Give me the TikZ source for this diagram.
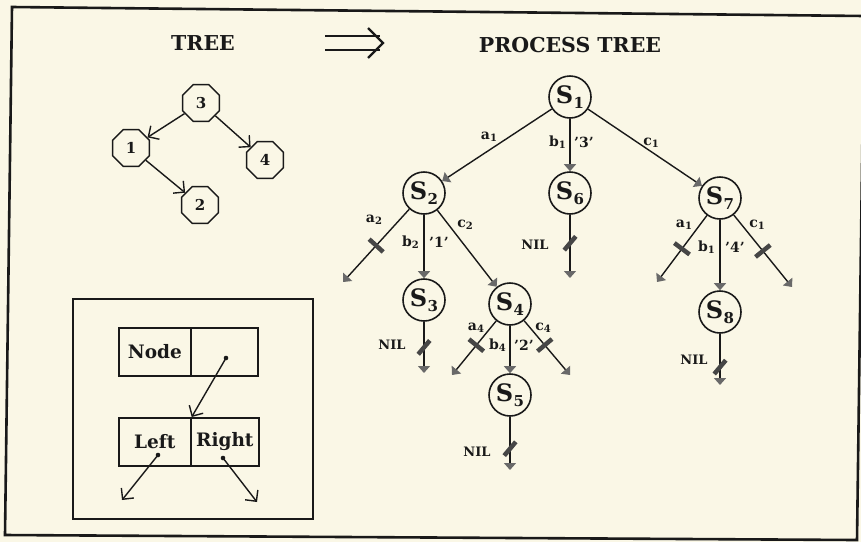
\documentclass[tikz,border=0pt]{standalone}
\usepackage{fontspec}
\setmainfont{DejaVu Serif}
\usetikzlibrary{arrows.meta,shapes.geometric}

\definecolor{paper}{RGB}{250,247,230}
\definecolor{ink}{RGB}{25,25,25}
\definecolor{tipgray}{RGB}{105,105,105}
\definecolor{cutgray}{RGB}{70,70,70}

% state label S with a lowered index
\newcommand{\St}[1]{S\kern0.5pt\raisebox{-5pt}{\fontsize{15}{15}\selectfont #1}}
% edge label with a lowered index
\newcommand{\Lb}[2]{#1\raisebox{-2.5pt}{\fontsize{10}{10}\selectfont #2}}

\tikzset{
  tnode/.style={draw=ink, line width=1.5pt, regular polygon, regular polygon sides=8,
    minimum size=40pt, inner sep=0pt, text=ink, font=\fontsize{15}{15}\selectfont\bfseries},
  pnode/.style={circle, draw=ink, line width=1.6pt, minimum size=42pt, inner sep=0pt,
    text=ink, font=\fontsize{24}{24}\selectfont\bfseries},
  tedge/.style={draw=ink, line width=1.4pt, -{Straight Barb[length=8pt,angle'=90]}},
  pedge/.style={draw=ink, line width=1.4pt, -{Triangle[length=7pt,width=12pt,color=tipgray]}},
  lbl/.style={inner sep=0pt, text=ink, font=\fontsize{14}{14}\selectfont\bfseries},
  nil/.style={inner sep=0pt, text=ink, font=\fontsize{13}{13}\selectfont\bfseries},
  cut/.style={fill=cutgray, draw=none, inner sep=0pt, minimum width=4.5pt, minimum height=19pt},
  slash/.style={cut, minimum height=18pt, rotate=-40},
  title/.style={inner sep=0pt, text=ink, font=\fontsize{20.5}{20.5}\selectfont\bfseries},
  cell/.style={draw=ink, line width=1.7pt, minimum height=48pt, inner sep=0pt, anchor=north west,
    text=ink, font=\fontsize{18.5}{18.5}\selectfont\bfseries},
}

\begin{document}
\begin{tikzpicture}[x=1pt,y=-1pt]
\fill[paper] (0,0) rectangle (861,542);
\useasboundingbox (0,0) rectangle (861,542);

% outer frame
\draw[ink, line width=2.6pt, line join=miter] (12,7) -- (864,16) -- (857,540) -- (5,535) -- cycle;

% headings and the implication arrow
\node[title] (htree) at (203,43) {TREE};
\node[title] (hproc) at (570,45) {PROCESS TREE};
\coordinate (ia) at (325,36); \coordinate (ib) at (380,36);
\coordinate (ic) at (325,50); \coordinate (id) at (380,50);
\draw[ink, line width=2.2pt] (ia) -- (ib) (ic) -- (id);
\draw[ink, line width=2.2pt] (368,28) -- (383,43) -- (368,58);

% binary tree
\node[tnode] (n3) at (201,103) {3};
\node[tnode] (n1) at (131,148) {1};
\node[tnode] (n4) at (265,160) {4};
\node[tnode] (n2) at (200,205) {2};
\draw[tedge] (n3) -- (n1);
\draw[tedge] (n3) -- (n4);
\draw[tedge] (n1) -- (n2);

% process tree states
\node[pnode] (S1) at (570,97) {\St{1}};
\node[pnode] (S2) at (424,193) {\St{2}};
\node[pnode] (S6) at (570,193) {\St{6}};
\node[pnode] (S7) at (720,198) {\St{7}};
\node[pnode] (S3) at (424,300) {\St{3}};
\node[pnode] (S4) at (510,304) {\St{4}};
\node[pnode] (S5) at (510,395) {\St{5}};
\node[pnode] (S8) at (720,312) {\St{8}};

% free ends of blocked transitions
\coordinate (t2a) at (343,282);
\coordinate (t3n) at (424,373);
\coordinate (t4a) at (452,375);
\coordinate (t4c) at (570,375);
\coordinate (t5n) at (510,470);
\coordinate (t6n) at (570,278);
\coordinate (t7a) at (657,282);
\coordinate (t7c) at (792,287);
\coordinate (t8n) at (720,385);

% transitions
\draw[pedge] (S1) -- (S2);
\draw[pedge] (S1) -- (S6);
\draw[pedge] (S1) -- (S7);
\draw[pedge] (S2) -- node[cut, sloped, pos=0.5] {} (t2a);
\draw[pedge] (S2) -- (S3);
\draw[pedge] (S2) -- (S4);
\draw[pedge] (S3) -- node[slash, pos=0.5] {} (t3n);
\draw[pedge] (S4) -- node[cut, sloped, pos=0.45] {} (t4a);
\draw[pedge] (S4) -- (S5);
\draw[pedge] (S4) -- node[cut, sloped, pos=0.45] {} (t4c);
\draw[pedge] (S5) -- node[slash, pos=0.6] {} (t5n);
\draw[pedge] (S6) -- node[slash, pos=0.45] {} (t6n);
\draw[pedge] (S7) -- node[cut, sloped, pos=0.5] {} (t7a);
\draw[pedge] (S7) -- (S8);
\draw[pedge] (S7) -- node[cut, sloped, pos=0.5] {} (t7c);
\draw[pedge] (S8) -- node[slash, pos=0.65] {} (t8n);

% transition labels
\node[lbl] (la1) at (489,137) {\Lb{a}{1}};
\node[lbl, anchor=east] (lb1) at (566,142) {\Lb{b}{1}};
\node[lbl, anchor=west] (lp3) at (574,142) {'3'};
\node[lbl] (lc1) at (651,143) {\Lb{c}{1}};
\node[lbl] (la2) at (374,220) {\Lb{a}{2}};
\node[lbl, anchor=east] (lb2) at (419,242) {\Lb{b}{2}};
\node[lbl, anchor=west] (lp1) at (429,242) {'1'};
\node[lbl] (lc2) at (465,225) {\Lb{c}{2}};
\node[nil] (nil3) at (392,345) {NIL};
\node[nil] (nil6) at (535,245) {NIL};
\node[lbl] (la7) at (684,225) {\Lb{a}{1}};
\node[lbl, anchor=east] (lb7) at (715,247) {\Lb{b}{1}};
\node[lbl, anchor=west] (lp4) at (725,247) {'4'};
\node[lbl] (lc7) at (757,225) {\Lb{c}{1}};
\node[lbl] (la4) at (476,328) {\Lb{a}{4}};
\node[lbl, anchor=east] (lb4) at (506,345) {\Lb{b}{4}};
\node[lbl, anchor=west] (lp2) at (514,345) {'2'};
\node[lbl] (lc4) at (543,328) {\Lb{c}{4}};
\node[nil] (nil5) at (477,452) {NIL};
\node[nil] (nil8) at (694,360) {NIL};

% record layout legend
\node[draw=ink, line width=1.7pt, minimum width=240pt, minimum height=220pt, inner sep=0pt,
      anchor=north west] (legend) at (72,298) {};
\node[cell, minimum width=72pt] (ncell) at (118,327) {Node};
\node[cell, minimum width=67pt] (pcell) at (190,327) {};
\node[cell, minimum width=72pt] (lcell) at (118,417) {Left};
\node[cell, minimum width=68pt] (rcell) at (190,417) {Right};
\coordinate (d1) at (226,358);
\coordinate (d2) at (158,455);
\coordinate (d3) at (223,458);
\coordinate (e2) at (122,500);
\coordinate (e3) at (257,502);
\fill[ink] (d1) circle (2.3pt) (d2) circle (2.3pt) (d3) circle (2.3pt);
\draw[tedge] (d1) -- (lcell.north east);
\draw[tedge] (d2) -- (e2);
\draw[tedge] (d3) -- (e3);
\end{tikzpicture}
\end{document}
